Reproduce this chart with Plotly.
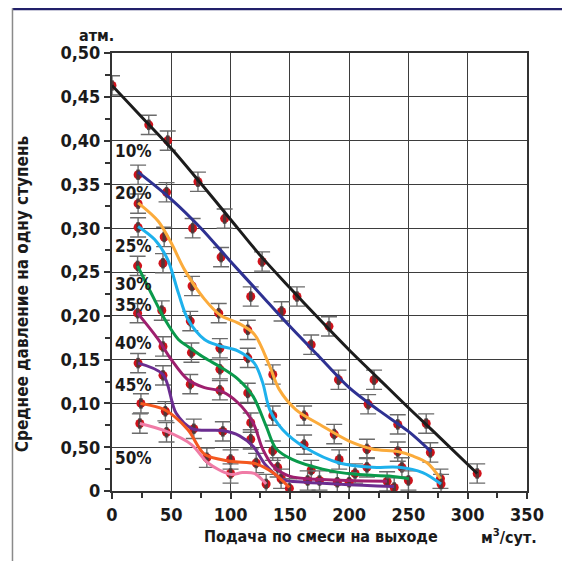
import plotly.graph_objects as go

# ---------------- data ----------------
X_TICKS = [0, 50, 100, 150, 200, 250, 300, 350]
Y_TICKS = [0, 0.05, 0.10, 0.15, 0.20, 0.25, 0.30, 0.35, 0.40, 0.45, 0.50]
Y_TICK_TEXT = ["0", "0,50", "0,10", "0,15", "0,20", "0,25", "0,30", "0,35", "0,40", "0,45", "0,50"]

SERIES = ["0%", "10%", "20%", "25%", "30%", "35%", "40%", "45%", "50%"]
COLORS = ["#1c1c1c", "#2e3192", "#fbab3b", "#1eb1ec", "#0a9a4b", "#9e1f6e", "#6b2d90", "#f4581f", "#f07ba6"]

# measured points
P0_X = [0, 31, 47, 72.5, 95, 126.6, 156, 183, 221, 265, 308]
P0_Y = [0.463, 0.418, 0.400, 0.353, 0.311, 0.262, 0.222, 0.188, 0.127, 0.077, 0.020]
P10_X = [22, 46, 68, 92, 117, 143, 168, 191, 216, 241, 268.5]
P10_Y = [0.361, 0.341, 0.300, 0.267, 0.222, 0.205, 0.167, 0.127, 0.099, 0.076, 0.044]
P20_X = [22, 44, 67.5, 90, 114.5, 135.6, 162, 187.4, 215, 241, 277]
P20_Y = [0.328, 0.290, 0.234, 0.203, 0.184, 0.133, 0.086, 0.065, 0.048, 0.045, 0.014]
P25_X = [22, 43, 66, 91, 114.5, 135.6, 162, 191.6, 215, 244.5, 277.5]
P25_Y = [0.301, 0.260, 0.194, 0.163, 0.152, 0.086, 0.053, 0.036, 0.027, 0.027, 0.008]
P30_X = [21.6, 42, 67, 91, 114.5, 135.6, 168, 205, 250]
P30_Y = [0.257, 0.206, 0.158, 0.139, 0.112, 0.046, 0.024, 0.020, 0.012]
P35_X = [21.6, 43, 66, 91, 117, 139.7, 175, 200, 232]
P35_Y = [0.203, 0.165, 0.122, 0.115, 0.078, 0.027, 0.012, 0.010, 0.011]
P40_X = [22, 43, 69, 93.5, 117, 142.6, 165, 190, 238]
P40_Y = [0.146, 0.132, 0.071, 0.068, 0.059, 0.014, 0.012, 0.010, 0.004]
P45_X = [24.4, 45, 80, 100, 121.6, 149.6]
P45_Y = [0.100, 0.091, 0.038, 0.036, 0.032, 0.003]
P50_X = [23.5, 46, 100, 130]
P50_Y = [0.077, 0.067, 0.020, 0.008]

# fitted curves
F0_X = [0, 25, 50, 75, 100, 125, 150, 175, 200, 225, 250, 275, 308]
F0_Y = [0.463, 0.427, 0.391, 0.351, 0.310, 0.269, 0.232, 0.196, 0.161, 0.128, 0.095, 0.063, 0.020]
F10_X = [22, 50, 75, 100, 125, 150, 175, 200, 225, 250, 269]
F10_Y = [0.364, 0.333, 0.300, 0.262, 0.225, 0.188, 0.153, 0.118, 0.092, 0.068, 0.045]
F20_X = [22, 39, 50, 61, 78, 92, 106, 120, 132.8, 141, 155, 177.6, 200, 219.6, 241, 253.5, 266, 277]
F20_Y = [0.329, 0.308, 0.283, 0.253, 0.219, 0.200, 0.192, 0.179, 0.143, 0.116, 0.093, 0.074, 0.057, 0.048, 0.045, 0.040, 0.032, 0.014]
F25_X = [22, 36, 47, 56, 64, 78, 90, 106, 120, 127, 133, 144, 163.6, 191.6, 219.6, 242, 262, 277.5]
F25_Y = [0.302, 0.287, 0.264, 0.226, 0.196, 0.173, 0.166, 0.160, 0.146, 0.124, 0.093, 0.070, 0.049, 0.032, 0.027, 0.027, 0.021, 0.008]
F30_X = [21.6, 33, 44.5, 56, 64, 78, 92, 106, 119, 130, 138, 152, 177.6, 205.6, 233.6, 250.4]
F30_Y = [0.257, 0.226, 0.196, 0.173, 0.165, 0.152, 0.141, 0.128, 0.108, 0.074, 0.049, 0.036, 0.025, 0.019, 0.017, 0.014]
F35_X = [21.6, 39, 50, 64, 78, 92, 106, 119, 127, 135.6, 149.6, 177.6, 232]
F35_Y = [0.203, 0.173, 0.150, 0.127, 0.118, 0.114, 0.101, 0.078, 0.048, 0.029, 0.017, 0.013, 0.011]
F40_X = [22, 43, 54, 68, 93, 107.6, 119, 130, 144, 163.6, 238]
F40_Y = [0.146, 0.133, 0.089, 0.071, 0.069, 0.063, 0.051, 0.029, 0.013, 0.010, 0.005]
F45_X = [24, 44, 64, 78, 100, 121.6, 135.6, 149.6]
F45_Y = [0.100, 0.093, 0.070, 0.042, 0.034, 0.031, 0.021, 0.004]
F50_X = [23.5, 46, 67, 81, 100, 110, 120, 130]
F50_Y = [0.077, 0.068, 0.053, 0.032, 0.019, 0.021, 0.020, 0.008]

LABEL_Y = [0.388, 0.340, 0.280, 0.236, 0.212, 0.169, 0.121, 0.038]
ERR = 0.011
ERR_CORE = 0.006

POINTS = [(P0_X, P0_Y), (P10_X, P10_Y), (P20_X, P20_Y), (P25_X, P25_Y), (P30_X, P30_Y),
          (P35_X, P35_Y), (P40_X, P40_Y), (P45_X, P45_Y), (P50_X, P50_Y)]
FITS = [(F0_X, F0_Y), (F10_X, F10_Y), (F20_X, F20_Y), (F25_X, F25_Y), (F30_X, F30_Y),
        (F35_X, F35_Y), (F40_X, F40_Y), (F45_X, F45_Y), (F50_X, F50_Y)]

FONT = "DejaVu Sans Condensed, Liberation Sans Narrow, Arial Narrow, sans-serif"
TXT = "#1a1a1a"

fig = go.Figure()

# measured points with error bars
for (px, py) in POINTS:
    fig.add_trace(go.Scatter(
        x=px, y=py, mode="markers",
        marker=dict(color="#d0121b", size=9, line=dict(width=0)),
        error_y=dict(type="constant", value=ERR, color="#6b6b6b", thickness=1.4, width=8),
        showlegend=False, hoverinfo="skip"))
    fig.add_trace(go.Scatter(
        x=px, y=py, mode="markers",
        marker=dict(color="#444444", size=1, opacity=0),
        error_y=dict(type="constant", value=ERR_CORE, color="rgba(60,60,60,0.85)", thickness=3.5, width=0),
        showlegend=False, hoverinfo="skip"))

# fitted curves
for (fx, fy), col in zip(FITS, COLORS):
    fig.add_trace(go.Scatter(
        x=fx, y=fy, mode="lines",
        line=dict(color=col, width=3, shape="spline", smoothing=0.9),
        showlegend=False, hoverinfo="skip"))

# percentage labels
for lab, ly in zip(SERIES[1:], LABEL_Y):
    fig.add_annotation(x=0.8, y=ly, xref="x", yref="y", text=lab, showarrow=False,
                       xanchor="left", yanchor="middle",
                       font=dict(family=FONT, size=17, color=TXT, weight="bold"))

# axis captions
fig.add_annotation(x=0.01, y=1.039, xref="paper", yref="paper", text="атм.", showarrow=False,
                   xanchor="right", yanchor="middle",
                   font=dict(family=FONT, size=16, color=TXT, weight="bold"))
fig.add_annotation(x=-0.217, y=0.449, xref="paper", yref="paper",
                   text="Среднее давление на одну ступень", showarrow=False, textangle=-90,
                   xanchor="center", yanchor="middle",
                   font=dict(family=FONT, size=17, color=TXT, weight="bold"))
fig.add_annotation(x=0.503, y=-0.105, xref="paper", yref="paper",
                   text="Подача по смеси на выходе", showarrow=False,
                   xanchor="center", yanchor="middle",
                   font=dict(family=FONT, size=16, color=TXT, weight="bold"))
fig.add_annotation(x=0.957, y=-0.105, xref="paper", yref="paper",
                   text="м<sup>3</sup>/сут.", showarrow=False,
                   xanchor="center", yanchor="middle",
                   font=dict(family=FONT, size=16, color=TXT, weight="bold"))

# frame decorations
fig.add_shape(type="line", xref="paper", yref="paper", x0=-0.24, x1=1.12, y0=1.102, y1=1.102,
              line=dict(color="#22206a", width=4))
fig.add_shape(type="line", xref="paper", yref="paper", x0=-0.2398, x1=-0.2398, y0=1.102, y1=-0.2,
              line=dict(color="#8a8a8a", width=1.5))
fig.add_shape(type="line", xref="paper", yref="paper", x0=1.0952, x1=1.0952, y0=1.102, y1=-0.2,
              line=dict(color="#8a8a8a", width=1.5))

fig.update_xaxes(range=[0, 350], tickvals=X_TICKS, ticktext=[str(v) for v in X_TICKS],
                 showgrid=True, gridcolor="#3d3d3d", gridwidth=1.4,
                 showline=True, linecolor="#333333", linewidth=2, mirror=True,
                 ticks="outside", ticklen=6, tickcolor="#333333", tickwidth=1.5,
                 minor=dict(tickvals=[25, 75, 125, 175, 225, 275, 325], ticks="outside",
                            ticklen=5, tickcolor="#333333", tickwidth=1.5, showgrid=False),
                 tickfont=dict(family=FONT, size=18, color=TXT, weight="bold"),
                 zeroline=False, fixedrange=True)
fig.update_yaxes(range=[0, 0.5], tickvals=Y_TICKS, ticktext=Y_TICK_TEXT,
                 showgrid=True, gridcolor="#3d3d3d", gridwidth=1.4,
                 showline=True, linecolor="#333333", linewidth=2, mirror=True,
                 ticks="outside", ticklen=6, tickcolor="#333333", tickwidth=1.5,
                 minor=dict(tickvals=[0.025, 0.075, 0.125, 0.175, 0.225, 0.275, 0.325, 0.375, 0.425, 0.475],
                            ticks="outside", ticklen=5, tickcolor="#333333", tickwidth=1.5, showgrid=False),
                 tickfont=dict(family=FONT, size=18, color=TXT, weight="bold"),
                 zeroline=False, fixedrange=True)

# page body adds an 8px margin, so the figure is sized to fit the 570x561 window
fig.update_layout(width=562, height=553,
                  margin=dict(l=104, r=43, t=45, b=70),
                  paper_bgcolor="white", plot_bgcolor="white",
                  showlegend=False)

fig.write_html("out.html")
